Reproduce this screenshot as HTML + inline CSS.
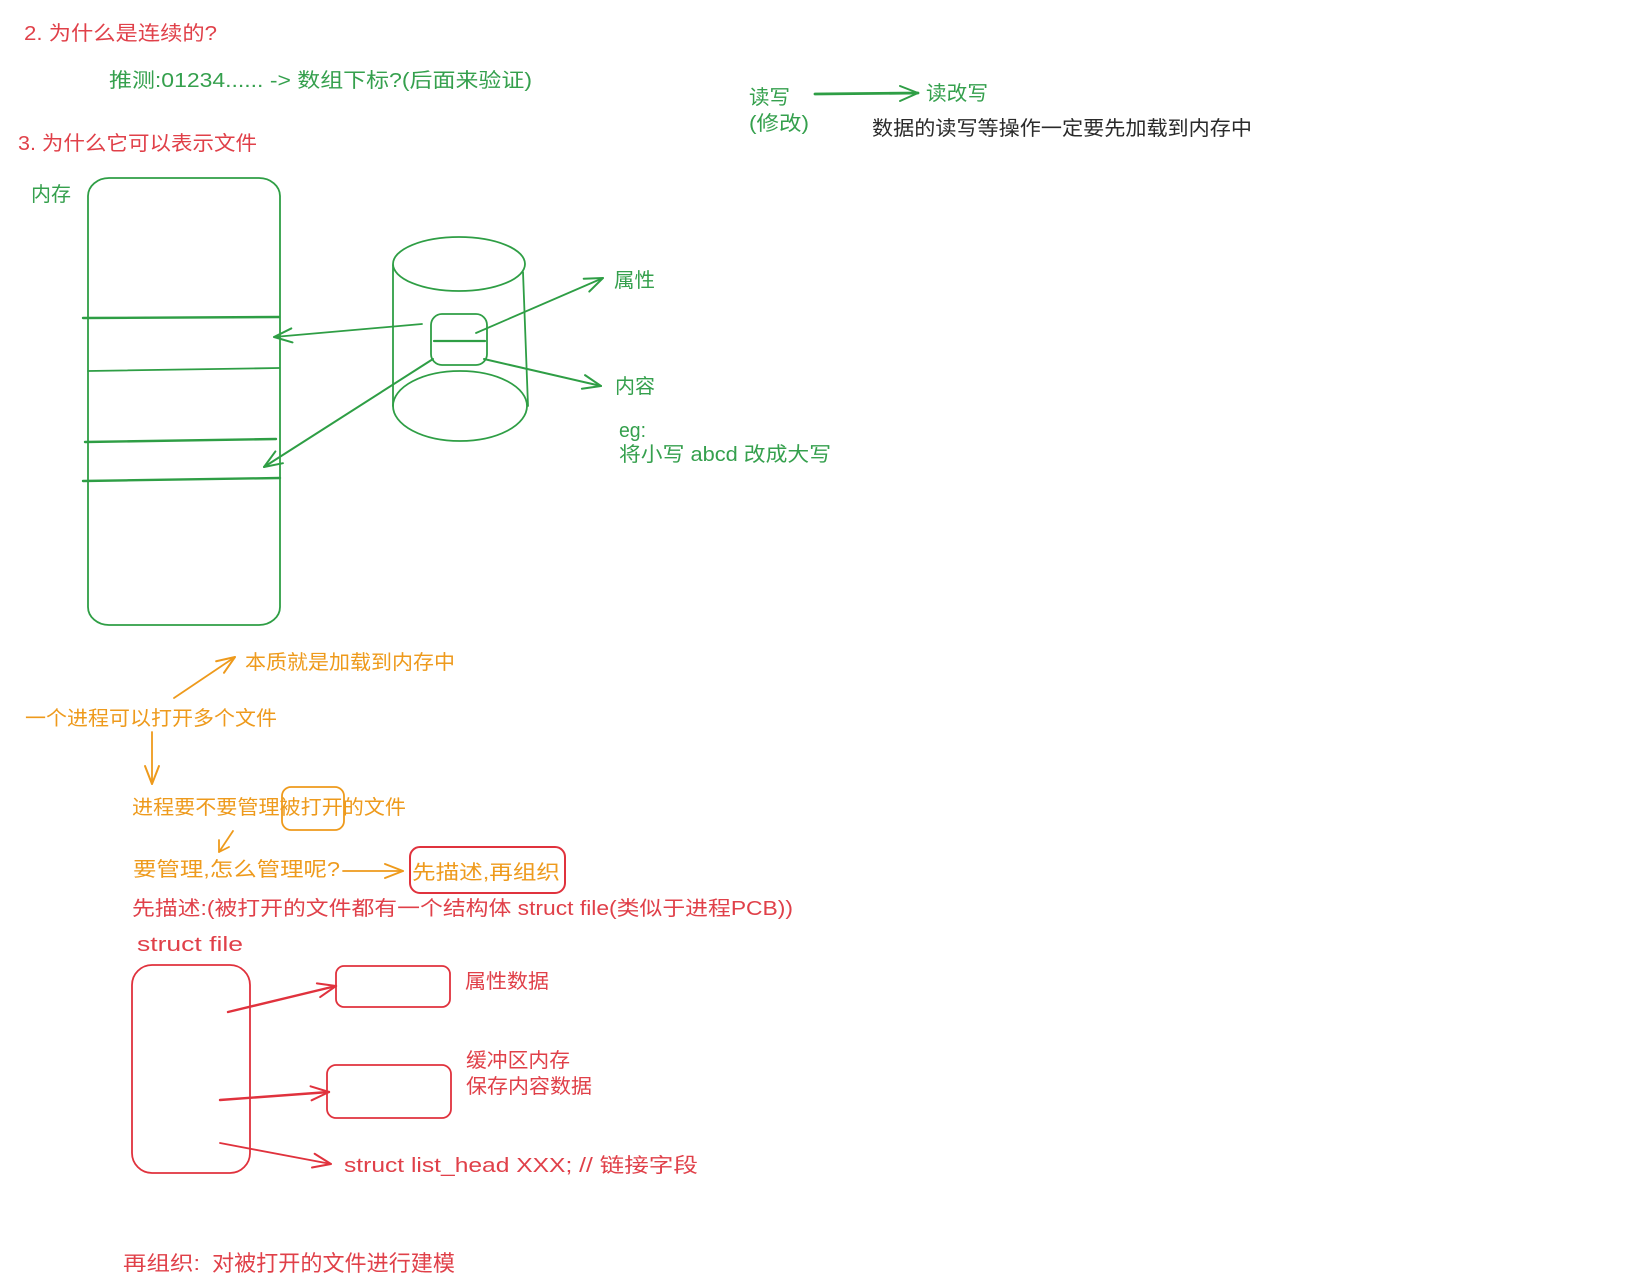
<!DOCTYPE html>
<html>
<head>
<meta charset="utf-8">
<title>Diagram</title>
<style>
html,body{margin:0;padding:0;background:#fff;width:1633px;height:1279px;overflow:hidden}
svg{display:block}
text{font-family:"Liberation Sans","Noto Sans CJK SC",sans-serif;font-size:20px;stroke:none}
.g text,text.g{fill:#35a04e}
.o text,text.o{fill:#ee9a1c}
.r text,text.r{fill:#e0414a}
.shape{fill:none;stroke-linecap:round;stroke-linejoin:round}
</style>
</head>
<body>
<svg width="1633" height="1279" viewBox="0 0 1633 1279" xmlns="http://www.w3.org/2000/svg">
<defs>
<filter id="soft" x="-2%" y="-2%" width="104%" height="104%"><feGaussianBlur stdDeviation="0.35"/></filter>
<marker id="ag" markerUnits="userSpaceOnUse" markerWidth="30" markerHeight="30" refX="20" refY="15" orient="auto" overflow="visible"><path d="M2,8 L20,15 L2,22" fill="none" stroke="#2f9e44" stroke-width="2" stroke-linecap="round" stroke-linejoin="round"/></marker>
<marker id="ao" markerUnits="userSpaceOnUse" markerWidth="30" markerHeight="30" refX="20" refY="15" orient="auto" overflow="visible"><path d="M2,8 L20,15 L2,22" fill="none" stroke="#ee9a1c" stroke-width="2" stroke-linecap="round" stroke-linejoin="round"/></marker>
<marker id="ar" markerUnits="userSpaceOnUse" markerWidth="30" markerHeight="30" refX="20" refY="15" orient="auto" overflow="visible"><path d="M2,8 L20,15 L2,22" fill="none" stroke="#e0313c" stroke-width="2" stroke-linecap="round" stroke-linejoin="round"/></marker>
</defs>
<g filter="url(#soft)">
<!-- Green shapes -->
<g class="shape" stroke="#2f9e44" stroke-width="1.8">
<rect x="88" y="178" width="192" height="447" rx="21" ry="18"/>
<path d="M83 318 L279 317" stroke-width="2.4"/>
<path d="M88 371 L279 368"/>
<path d="M85 442 L276 439" stroke-width="2.4"/>
<path d="M83 481 L280 478" stroke-width="2.4"/>
<ellipse cx="459" cy="264" rx="66" ry="27"/>
<ellipse cx="460" cy="406" rx="67" ry="35"/>
<path d="M393 265 L393 406"/>
<path d="M523 272 L528 406"/>
<rect x="431" y="314" width="56" height="51" rx="11"/>
<path d="M434 341 L485 341" stroke-width="2.2"/>
<path d="M422 324 L274 337" marker-end="url(#ag)"/>
<path d="M433 359 L264 467" stroke-width="2" marker-end="url(#ag)"/>
<path d="M476 333 L603 278" marker-end="url(#ag)"/>
<path d="M484 359 L601 386" stroke-width="2" marker-end="url(#ag)"/>
<path d="M815 94 L918 93" stroke-width="2.8"/>
<path d="M900 86 L918 93 L900 101" stroke-width="2"/>
</g>
<!-- Orange shapes -->
<g class="shape" stroke="#ee9a1c" stroke-width="1.8">
<path d="M174 698 L235 657" marker-end="url(#ao)"/>
<path d="M152 732 L152 784" marker-end="url(#ao)"/>
<rect x="282" y="787" width="62" height="43" rx="9"/>
<path d="M233 831 L219 852"/>
<path d="M219 840 L219 852 L229 847"/>
<path d="M343 871 L403 871" marker-end="url(#ao)"/>
</g>
<!-- Red shapes -->
<g class="shape" stroke="#e0313c" stroke-width="1.8">
<rect x="410" y="847" width="155" height="46" rx="10" stroke-width="2"/>
<rect x="132" y="965" width="118" height="208" rx="20"/>
<rect x="336" y="966" width="114" height="41" rx="8"/>
<rect x="327" y="1065" width="124" height="53" rx="9"/>
<path d="M228 1012 L336 986" stroke-width="2.4" marker-end="url(#ar)"/>
<path d="M220 1100 L329 1092" stroke-width="2.4" marker-end="url(#ar)"/>
<path d="M220 1143 L331 1164" marker-end="url(#ar)"/>
</g>
<!-- Green text -->
<g class="g">
<text x="109" y="87" textLength="423" lengthAdjust="spacingAndGlyphs">推测:01234...... -&gt; 数组下标?(后面来验证)</text>
<text x="31" y="201" textLength="40" lengthAdjust="spacingAndGlyphs">内存</text>
<text x="614" y="287" textLength="41" lengthAdjust="spacingAndGlyphs">属性</text>
<text x="615" y="393" textLength="40" lengthAdjust="spacingAndGlyphs">内容</text>
<text x="619" y="437" textLength="27" lengthAdjust="spacingAndGlyphs">eg:</text>
<text x="619" y="461" textLength="212" lengthAdjust="spacingAndGlyphs">将小写 abcd 改成大写</text>
<text x="749" y="104" textLength="41" lengthAdjust="spacingAndGlyphs">读写</text>
<text x="749" y="130" textLength="60" lengthAdjust="spacingAndGlyphs">(修改)</text>
<text x="926" y="100" textLength="62" lengthAdjust="spacingAndGlyphs">读改写</text>
</g>
<text x="872" y="135" textLength="380" lengthAdjust="spacingAndGlyphs" fill="#2a2a2a">数据的读写等操作一定要先加载到内存中</text>
<!-- Red text -->
<g class="r">
<text x="24" y="40" textLength="193" lengthAdjust="spacingAndGlyphs">2. 为什么是连续的?</text>
<text x="18" y="150" textLength="239" lengthAdjust="spacingAndGlyphs">3. 为什么它可以表示文件</text>
<text x="132" y="915" textLength="661" lengthAdjust="spacingAndGlyphs">先描述:(被打开的文件都有一个结构体 struct file(类似于进程PCB))</text>
<text x="137" y="951" textLength="106" lengthAdjust="spacingAndGlyphs">struct file</text>
<text x="465" y="988" textLength="84" lengthAdjust="spacingAndGlyphs">属性数据</text>
<text x="466" y="1067" textLength="104" lengthAdjust="spacingAndGlyphs">缓冲区内存</text>
<text x="466" y="1093" textLength="126" lengthAdjust="spacingAndGlyphs">保存内容数据</text>
<text x="344" y="1172" textLength="354" lengthAdjust="spacingAndGlyphs">struct list_head XXX;  // 链接字段</text>
<text x="123" y="1270" textLength="77" lengthAdjust="spacingAndGlyphs">再组织:</text>
<text x="212" y="1271" textLength="243" lengthAdjust="spacingAndGlyphs" style="font-size:22px" fill="#e8505a">对被打开的文件进行建模</text>
</g>
<!-- Orange text -->
<g class="o">
<text x="245" y="669" textLength="210" lengthAdjust="spacingAndGlyphs">本质就是加载到内存中</text>
<text x="25" y="725" textLength="252" lengthAdjust="spacingAndGlyphs">一个进程可以打开多个文件</text>
<text x="132" y="814" textLength="274" lengthAdjust="spacingAndGlyphs">进程要不要管理被打开的文件</text>
<text x="133" y="876" textLength="207" lengthAdjust="spacingAndGlyphs">要管理,怎么管理呢?</text>
<text x="412" y="879" textLength="148" lengthAdjust="spacingAndGlyphs">先描述,再组织</text>
</g>
</g>
</svg>
</body>
</html>
